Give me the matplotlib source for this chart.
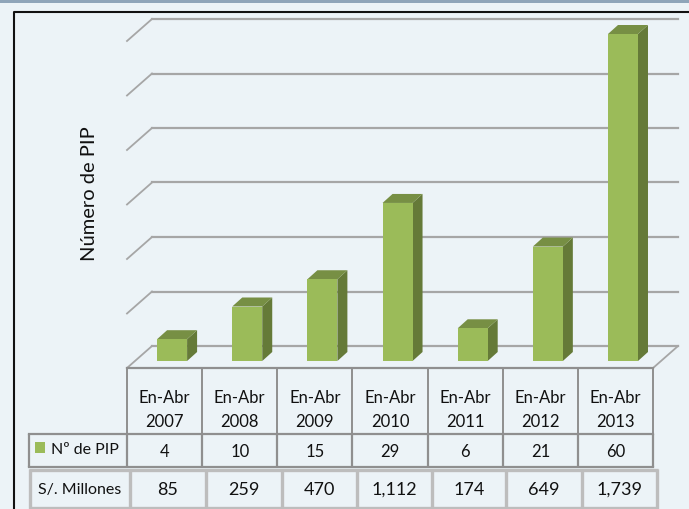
import matplotlib
matplotlib.use("Agg")
import matplotlib.pyplot as plt
from matplotlib.patches import Polygon, Rectangle

plt.rcParams['font.family'] = ['Lato', 'DejaVu Sans']

periods = ["En-Abr\n2007", "En-Abr\n2008", "En-Abr\n2009", "En-Abr\n2010", "En-Abr\n2011", "En-Abr\n2012", "En-Abr\n2013"]
pip = [4, 10, 15, 29, 6, 21, 60]
millones = ["85", "259", "470", "1,112", "174", "649", "1,739"]
grid_vals = [0, 10, 20, 30, 40, 50, 60]

W, H = 689, 509
BG = "#ecf3f7"
GREEN = "#9bbb59"
GREEN_SIDE = "#657a38"
GREEN_TOP = "#778f44"
GRID = "#a6a6a6"
LINE = "#8f8f8f"

fig = plt.figure(figsize=(W / 100, H / 100), dpi=100, facecolor=BG)

# overlay in pixels for frame and table
px = fig.add_axes([0, 0, 1, 1], zorder=1)
px.set_xlim(0, W)
px.set_ylim(H, 0)
px.axis("off")

# chart axes: one unit of x is one category, y is the number of PIP
x0, cat_w = 127, 75.15
base_y, unit_h = 361, 5.45
ax = fig.add_axes([0, 0, 1, 1], zorder=2)
ax.set_xlim(-x0 / cat_w, (W - x0) / cat_w)
ax.set_ylim((base_y - H) / unit_h, base_y / unit_h)
ax.axis("off")
ax.patch.set_alpha(0)

# top band and frame
px.add_patch(Rectangle((0, 0), W, 2.5, color="#8fa5b9", lw=0))
px.plot([14, 14, W], [H, 11.5, 11.5], color="#111111", lw=1.5, solid_capstyle="butt")

# back wall gridlines and left wall
wall_dx = 25 / cat_w
wall_dy = 15 / unit_h
floor_dy = -7 / unit_h
n = len(pip)
for v in grid_vals:
    y = v + wall_dy
    ax.plot([wall_dx, n + wall_dx], [y, y], color=GRID, lw=1.6, zorder=1)
    ax.plot([0, wall_dx], [v + floor_dy, y], color=GRID, lw=1.3, zorder=1)
ax.plot([n, n + wall_dx], [floor_dy, wall_dy], color=GRID, lw=1.3, zorder=1)
ax.plot([0, n], [floor_dy, floor_dy], color=LINE, lw=1.6, zorder=1)

# 3d bars sit towards the back of the floor, so a bit right of the column centre
positions = [i + 0.6 for i in range(n)]
bar_w = 30 / cat_w
dx = 10 / cat_w
dy = 9 / unit_h
ax.bar(positions, pip, width=bar_w, color=GREEN, edgecolor="none", zorder=4)
for p, v in zip(positions, pip):
    l, r = p - bar_w / 2, p + bar_w / 2
    ax.add_patch(Polygon([(r, 0), (r + dx, dy), (r + dx, v + dy), (r, v)], color=GREEN_SIDE, lw=0, zorder=3))
    ax.add_patch(Polygon([(l, v), (r, v), (r + dx, v + dy), (l + dx, v + dy)], color=GREEN_TOP, lw=0, zorder=3))

ax.text(-0.5, 30.7, "Número de PIP", rotation=90, ha="center", va="center", fontsize=14.5, color="#111111")

# table: category row and Nº de PIP row
col_x = [x0 + cat_w * i for i in range(n + 1)]
for x in col_x:
    px.plot([x, x], [368, 434], color=LINE, lw=1.4, solid_capstyle="butt")
    px.plot([x, x], [434, 467], color=LINE, lw=1.6, solid_capstyle="butt")
px.plot([29, 29], [434, 467], color=LINE, lw=1.6, solid_capstyle="butt")
px.plot([29, col_x[-1]], [434, 434], color=LINE, lw=1.6)
px.plot([29, col_x[-1]], [467, 467], color=LINE, lw=1.6)

# S/. Millones row has its own wider, lighter grid
row3_x = [30, 130, 206, 282, 357, 432, 506, 582, 657]
for x in row3_x:
    px.plot([x, x], [469, H], color="#bdbdbd", lw=2.4, solid_capstyle="butt")
px.plot([28.8, 658.2], [469.5, 469.5], color="#bdbdbd", lw=2.4, solid_capstyle="butt")
px.plot([28.8, 658.2], [507.5, 507.5], color="#bdbdbd", lw=2.4, solid_capstyle="butt")

for i in range(n):
    cx = x0 + cat_w * (i + 0.5)
    px.text(cx, 410, periods[i], ha="center", va="center", fontsize=12, linespacing=1.65, color="#111111")
    px.text(cx, 452, str(pip[i]), ha="center", va="center", fontsize=12, color="#111111")
    px.text((row3_x[i + 1] + row3_x[i + 2]) / 2, 490, millones[i], ha="center", va="center", fontsize=13, color="#111111")

px.add_patch(Rectangle((35, 442), 10, 11, color=GREEN, lw=0))
px.text(51, 450.5, "Nº de PIP", ha="left", va="center", fontsize=11.5, color="#111111")
px.text(80, 490, "S/. Millones", ha="center", va="center", fontsize=11.5, color="#111111")

fig.savefig("out.png", dpi=100, facecolor=BG)
